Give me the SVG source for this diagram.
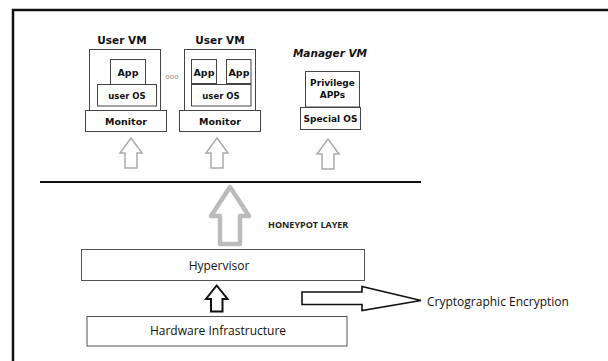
<svg xmlns="http://www.w3.org/2000/svg" width="608" height="361" viewBox="0 0 608 361">
<style>
.box{fill:#fff;stroke:#444;stroke-width:1}
.bx{fill:#fff;stroke:#555;stroke-width:1}
.vt{font-family:"DejaVu Sans",Verdana,sans-serif;font-weight:bold;fill:#111;text-anchor:middle}
.ot{font-family:"Open Sans","Liberation Sans",sans-serif;fill:#111;text-anchor:middle}
.sa{fill:#fff;stroke:#aaa;stroke-width:1.5;stroke-linejoin:miter}
</style>
<defs>
<path id="smallArrow" d="M0,0 L11,15 L6,15 L6,30 L-6,30 L-6,15 L-11,15 Z"/>
</defs>
<rect x="0" y="0" width="608" height="361" fill="#fff"/>
<g id="frame">
<path d="M13,361 L13,10 L608,10" fill="none" stroke="#111" stroke-width="2.5"/>
</g>
<g id="uservm1">
<text class="vt" x="122" y="44" font-size="10.5">User VM</text>
<rect class="box" x="89.5" y="49.5" width="71" height="61"/>
<rect class="box" x="110.5" y="59.5" width="35" height="25"/>
<text class="vt" x="128" y="75.5" font-size="9.5">App</text>
<rect class="box" x="97.5" y="84.5" width="59" height="21.5"/>
<text class="vt" x="127" y="98.5" font-size="8.5">user OS</text>
<rect class="box" x="85.5" y="110.5" width="81" height="21"/>
<text class="vt" x="126" y="124.5" font-size="9.5">Monitor</text>
</g>
<g id="dots">
<text x="172" y="79" font-family="'DejaVu Sans',sans-serif" font-size="7" fill="#888" text-anchor="middle">ooo</text>
</g>
<g id="uservm2">
<text class="vt" x="220" y="44" font-size="10.5">User VM</text>
<rect class="box" x="184.5" y="49.5" width="71" height="61"/>
<rect class="box" x="191.5" y="59.5" width="25" height="24"/>
<text class="vt" x="204" y="75.5" font-size="9.5">App</text>
<rect class="box" x="226.5" y="59.5" width="24.5" height="24"/>
<text class="vt" x="239" y="75.5" font-size="9.5">App</text>
<rect class="box" x="191.5" y="84.5" width="59.5" height="21.5"/>
<text class="vt" x="221" y="98.5" font-size="8.5">user OS</text>
<rect class="box" x="179.5" y="110.5" width="81" height="21"/>
<text class="vt" x="220" y="124.5" font-size="9.5">Monitor</text>
</g>
<g id="managervm">
<text class="vt" x="330" y="57" font-size="10.5" font-style="italic">Manager VM</text>
<rect class="box" x="305.5" y="71.5" width="54" height="35.5"/>
<text class="vt" x="332.5" y="86" font-size="9">Privilege</text>
<text class="vt" x="332.5" y="98" font-size="9">APPs</text>
<rect class="box" x="300.5" y="107.5" width="60" height="22"/>
<text class="vt" x="330.5" y="121.5" font-size="9">Special OS</text>
</g>
<g id="hypervisor">
<rect class="bx" x="81.5" y="249.5" width="283" height="31"/>
<text class="ot" x="219" y="270" font-size="12">Hypervisor</text>
</g>
<g id="hardware">
<rect class="bx" x="87" y="316.5" width="260" height="29.5"/>
<text class="ot" x="218" y="334.5" font-size="12">Hardware Infrastructure</text>
</g>
<g id="labels">
<text x="268" y="227.5" font-family="'Open Sans','Liberation Sans',sans-serif" font-weight="bold" font-size="9" fill="#222">HONEYPOT LAYER</text>
<text x="427" y="305.5" font-family="'Open Sans','Liberation Sans',sans-serif" font-size="12" fill="#111">Cryptographic Encryption</text>
</g>
<g id="connectors">
<line x1="40" y1="182" x2="421" y2="182" stroke="#111" stroke-width="2"/>
<use href="#smallArrow" x="131" y="138" class="sa"/>
<use href="#smallArrow" x="217" y="138" class="sa"/>
<use href="#smallArrow" x="328" y="139" class="sa"/>
<path d="M230,187 L249,216 L240,216 L240,244 L220,244 L220,216 L211,216 Z" fill="#fff" stroke="#bbb" stroke-width="4.5" stroke-linejoin="round"/>
<path d="M216.7,285.5 L227.5,299 L222.5,299 L222.5,311.5 L211,311.5 L211,299 L206,299 Z" fill="#fff" stroke="#111" stroke-width="2"/>
<path d="M302,292 L362,292 L362,286.5 L421,300.5 L362,310.5 L362,304.5 L302,304.5 Z" fill="#fff" stroke="#111" stroke-width="1.6"/>
</g>
</svg>
